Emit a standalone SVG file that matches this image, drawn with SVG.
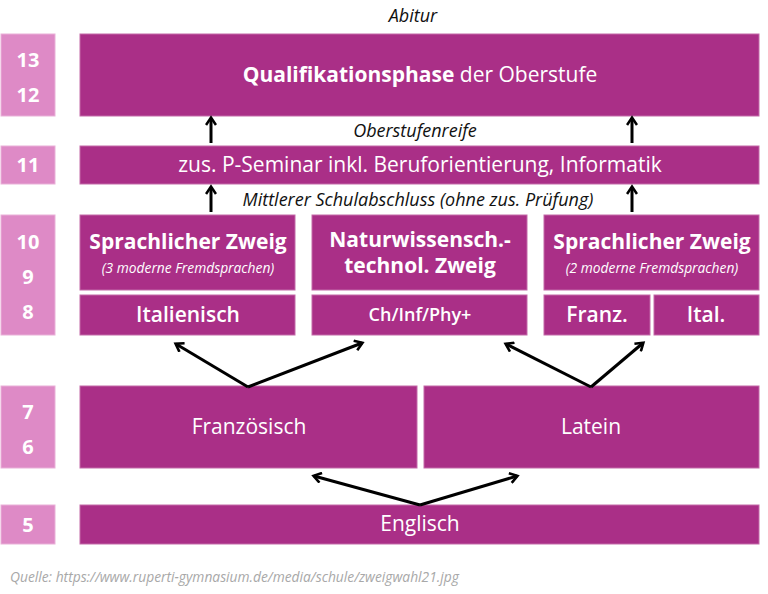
<svg xmlns="http://www.w3.org/2000/svg" width="768" height="594" viewBox="0 0 768 594">
<defs>
<style>
.lab{fill:#de8ac6;stroke:#e9b0d8;stroke-width:1}
.box{fill:#aa2f87;stroke:#c36aa8;stroke-width:1}
text{font-family:"Open Sans","Noto Sans","Liberation Sans",sans-serif;fill:#fff}
.num{font-size:20px;font-weight:700;text-anchor:middle}
.t{font-size:21px;text-anchor:middle}
.b{font-weight:700}
.sb{font-weight:600}
.it{font-style:italic;fill:#111;text-anchor:middle;font-size:18px}
.sub{font-style:italic;font-size:13.8px;text-anchor:middle}
.src{font-style:italic;font-size:13.8px;fill:#a8a8a8}
.arr{fill:none;stroke:#000;stroke-width:3;marker-end:url(#ah)}
</style>
<marker id="ah" viewBox="0 0 12 12" refX="9" refY="6" markerWidth="12" markerHeight="12" markerUnits="userSpaceOnUse" orient="auto">
<path d="M2,1 L9.5,6 L2,11" fill="none" stroke="#000" stroke-width="2.6"/>
</marker>
</defs>
<rect width="768" height="594" fill="#fff"/>

<g id="labels">
<g id="g1312"><rect class="lab" x="1" y="34" width="54" height="82"/><text class="num" x="28" y="67">13</text><text class="num" x="28" y="102">12</text></g>
<g id="g11"><rect class="lab" x="1" y="146" width="54" height="38"/><text class="num" x="28" y="172">11</text></g>
<g id="g1098"><rect class="lab" x="1" y="215" width="54" height="120"/><text class="num" x="28" y="249">10</text><text class="num" x="28" y="284">9</text><text class="num" x="28" y="319">8</text></g>
<g id="g76"><rect class="lab" x="1" y="386" width="54" height="82"/><text class="num" x="28" y="419">7</text><text class="num" x="28" y="454">6</text></g>
<g id="g5"><rect class="lab" x="1" y="505" width="54" height="39"/><text class="num" x="28" y="532">5</text></g>
</g>

<g id="qualifikation"><rect class="box" x="80" y="34" width="679" height="82"/><text class="t" x="420" y="82"><tspan class="b">Qualifikationsphase</tspan> der Oberstufe</text></g>
<g id="pseminar"><rect class="box" x="80" y="146" width="679" height="38"/><text class="t" x="420" y="172">zus. P-Seminar inkl. Beruforientierung, Informatik</text></g>

<g id="sprach3"><rect class="box" x="80" y="215" width="215" height="75"/><text class="t b" x="188" y="249">Sprachlicher Zweig</text><text class="sub" x="188" y="273">(3 moderne Fremdsprachen)</text></g>
<g id="natur"><rect class="box" x="312" y="215" width="215" height="75"/><text class="t b" x="420" y="247">Naturwissensch.-</text><text class="t b" x="420" y="273">technol. Zweig</text></g>
<g id="sprach2"><rect class="box" x="544" y="215" width="215" height="75"/><text class="t b" x="652" y="249">Sprachlicher Zweig</text><text class="sub" x="652" y="273">(2 moderne Fremdsprachen)</text></g>

<g id="italienisch"><rect class="box" x="80" y="295" width="215" height="40"/><text class="t sb" x="188" y="322">Italienisch</text></g>
<g id="chinf"><rect class="box" x="312" y="295" width="215" height="40"/><text class="t sb" x="420" y="321" style="font-size:18px">Ch/Inf/Phy+</text></g>
<g id="franz"><rect class="box" x="544" y="295" width="106" height="40"/><text class="t sb" x="597" y="322">Franz.</text></g>
<g id="ital"><rect class="box" x="654" y="295" width="105" height="40"/><text class="t sb" x="706" y="322">Ital.</text></g>

<g id="franzoesisch"><rect class="box" x="80" y="386" width="337" height="82"/><text class="t" x="249" y="434">Französisch</text></g>
<g id="latein"><rect class="box" x="424" y="386" width="335" height="82"/><text class="t" x="591" y="434">Latein</text></g>
<g id="englisch"><rect class="box" x="80" y="505" width="679" height="39"/><text class="t" x="420" y="531">Englisch</text></g>

<g id="annotations">
<text class="it" x="413" y="22">Abitur</text>
<text class="it" x="415" y="137">Oberstufenreife</text>
<text class="it" x="418" y="206">Mittlerer Schulabschluss (ohne zus. Prüfung)</text>
<text class="src" x="10" y="582">Quelle:  https://www.ruperti-gymnasium.de/media/schule/zweigwahl21.jpg</text>
</g>

<g id="connectors">
<path class="arr" d="M211,143 L211,118"/>
<path class="arr" d="M632,143 L632,118"/>
<path class="arr" d="M211,212 L211,187"/>
<path class="arr" d="M632,212 L632,187"/>
<path class="arr" d="M248,387 L176,344"/>
<path class="arr" d="M248,387 L362,343"/>
<path class="arr" d="M591,387 L506,344"/>
<path class="arr" d="M591,387 L643,343"/>
<path class="arr" d="M420,505 L314,476"/>
<path class="arr" d="M420,505 L517,476"/>
</g>
</svg>
